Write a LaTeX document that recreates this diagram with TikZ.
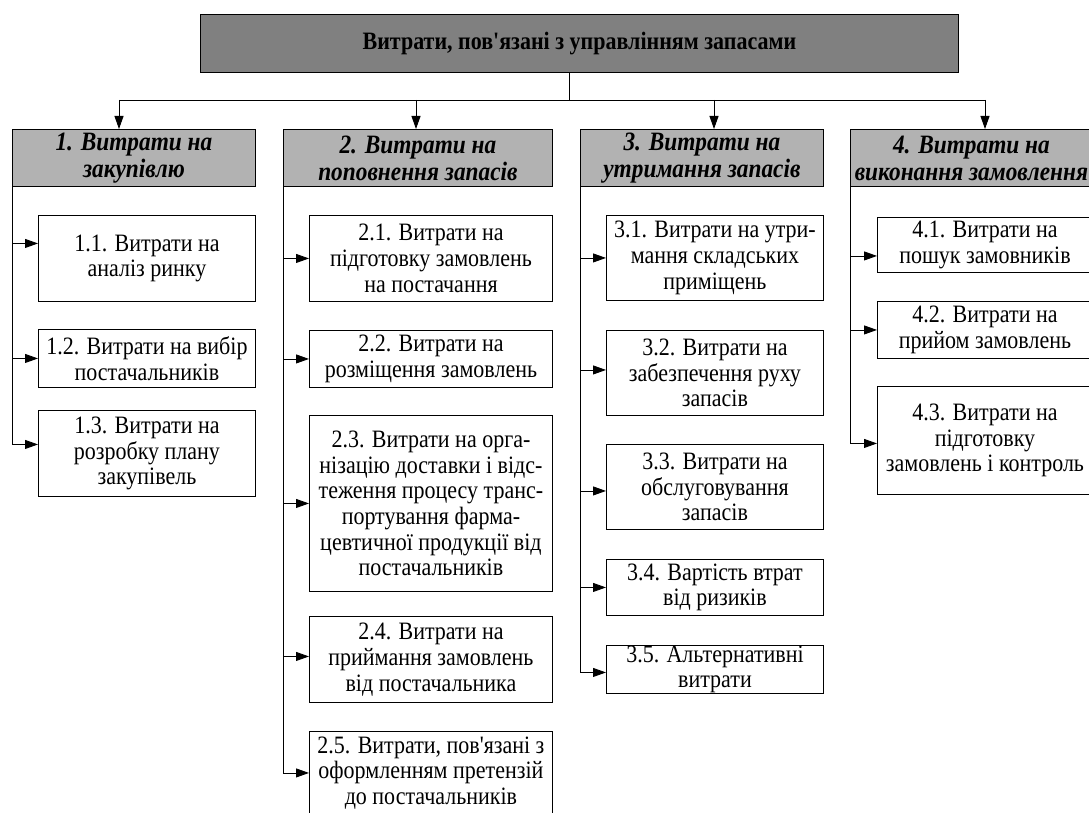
\documentclass[tikz,border=0pt]{standalone}
\usepackage{fontspec}
\setmainfont{Liberation Serif}[Ligatures=TeXOff,FakeStretch=0.88]
\usetikzlibrary{arrows.meta}
\definecolor{titlegray}{gray}{0.5}
\definecolor{hdrgray}{gray}{0.7}
\begin{document}
\begin{tikzpicture}[x=1pt,y=-1pt,
  ln/.style={line width=0.9pt},
  conn/.style={line width=0.9pt,-{Triangle[length=13pt,width=9pt]}},
  box/.style={draw=black,line width=0.9pt,fill=white,inner sep=0pt,align=center,anchor=north west,font=\fontsize{25}{25.7}\selectfont},
  hdr/.style={draw=black,line width=0.9pt,fill=hdrgray,inner sep=0pt,align=center,anchor=north west,font=\fontsize{26.5}{27}\selectfont\bfseries\itshape},
  ttl/.style={draw=black,line width=0.9pt,fill=titlegray,inner sep=0pt,align=center,anchor=north west,font=\fontsize{25}{26}\selectfont\bfseries}
]
\useasboundingbox (0,0) rectangle (1089,813);
\fill[white] (0,0) rectangle (1089,813);

% title
\node[ttl,minimum width=758pt,minimum height=58pt] (t) at (200,14) {Витрати, пов'язані з управлінням запасами};

% headers
\node[hdr,minimum width=243pt,minimum height=57pt] (h1) at (12,129) {1. Витрати на\\закупівлю};
\node[hdr,minimum width=269pt,minimum height=57pt] (h2) at (283,129) {2. Витрати на\\поповнення запасів};
\node[hdr,minimum width=243pt,minimum height=57pt] (h3) at (580,129) {3. Витрати на\\утримання запасів};
\node[hdr,minimum width=242pt,minimum height=57pt] (h4) at (850,129) {4. Витрати на\\виконання замовлення};

% column 1
\node[box,minimum width=217pt,minimum height=86pt] (b11) at (38,215) {1.1. Витрати на\\аналіз ринку};
\node[box,minimum width=217pt,minimum height=58pt] (b12) at (38,329) {1.2. Витрати на вибір\\постачальників};
\node[box,minimum width=217pt,minimum height=86pt] (b13) at (38,410) {1.3. Витрати на\\розробку плану\\закупівель};

% column 2
\node[box,minimum width=243pt,minimum height=86pt] (b21) at (309,215) {2.1. Витрати на\\підготовку замовлень\\на постачання};
\node[box,minimum width=243pt,minimum height=57pt] (b22) at (309,330) {2.2. Витрати на\\розміщення замовлень};
\node[box,minimum width=243pt,minimum height=176pt] (b23) at (309,415) {2.3. Витрати на орга-\\нізацію доставки і відс-\\теження процесу транс-\\портування фарма-\\цевтичної продукції від\\постачальників};
\node[box,minimum width=243pt,minimum height=86pt] (b24) at (309,616) {2.4. Витрати на\\приймання замовлень\\від постачальника};
\node[box,minimum width=243pt,minimum height=83pt] (b25) at (309,731) {2.5. Витрати, пов'язані з\\оформленням претензій\\до постачальників};

% column 3
\node[box,minimum width=217pt,minimum height=85pt] (b31) at (606,215) {3.1. Витрати на утри-\\мання складських\\приміщень};
\node[box,minimum width=217pt,minimum height=85pt] (b32) at (606,330) {3.2. Витрати на\\забезпечення руху\\запасів};
\node[box,minimum width=217pt,minimum height=85pt] (b33) at (606,444) {3.3. Витрати на\\обслуговування\\запасів};
\node[box,minimum width=217pt,minimum height=56pt] (b34) at (606,559) {3.4. Вартість втрат\\від ризиків};
\node[box,minimum width=217pt,minimum height=48pt] (b35) at (606,645) {3.5. Альтернативні\\витрати};

% column 4
\node[box,minimum width=215pt,minimum height=55pt] (b41) at (877,217) {4.1. Витрати на\\пошук замовників};
\node[box,minimum width=215pt,minimum height=57pt] (b42) at (877,301) {4.2. Витрати на\\прийом замовлень};
\node[box,minimum width=215pt,minimum height=108pt] (b43) at (877,386) {4.3. Витрати на\\підготовку\\замовлень і контроль};

% top connectors
\coordinate (j0) at (569,100);
\coordinate (j1) at (119,100);
\coordinate (j2) at (416,100);
\coordinate (j3) at (714,100);
\coordinate (j4) at (985,100);
\draw[ln] (t.south -| j0) -- (j0);
\draw[ln] (j1) -- (j4);
\draw[conn] (j1) -- (j1 |- h1.north);
\draw[conn] (j2) -- (j2 |- h2.north);
\draw[conn] (j3) -- (j3 |- h3.north);
\draw[conn] (j4) -- (j4 |- h4.north);

% column 1 connectors
\draw[ln] (h1.south west) -- ([yshift=9pt]b13.west -| h1.south west);
\draw[conn] ([yshift=15pt]b11.west -| h1.south west) -- ([yshift=15pt]b11.west);
\draw[conn] (b12.west -| h1.south west) -- (b12.west);
\draw[conn] ([yshift=9pt]b13.west -| h1.south west) -- ([yshift=9pt]b13.west);

% column 2 connectors
\draw[ln] (h2.south west) -- (b25.west -| h2.south west);
\draw[conn] (b21.west -| h2.south west) -- (b21.west);
\draw[conn] (b22.west -| h2.south west) -- (b22.west);
\draw[conn] (b23.west -| h2.south west) -- (b23.west);
\draw[conn] ([yshift=3pt]b24.west -| h2.south west) -- ([yshift=3pt]b24.west);
\draw[conn] (b25.west -| h2.south west) -- (b25.west);

% column 3 connectors
\draw[ln] (h3.south west) -- ([yshift=-3pt]b35.west -| h3.south west);
\draw[conn] (b31.west -| h3.south west) -- (b31.west);
\draw[conn] ([yshift=3pt]b32.west -| h3.south west) -- ([yshift=3pt]b32.west);
\draw[conn] ([yshift=-4pt]b33.west -| h3.south west) -- ([yshift=-4pt]b33.west);
\draw[conn] (b34.west -| h3.south west) -- (b34.west);
\draw[conn] ([yshift=-3pt]b35.west -| h3.south west) -- ([yshift=-3pt]b35.west);

% column 4 connectors
\draw[ln] (h4.south west) -- ([yshift=-3pt]b43.west -| h4.south west);
\draw[conn] ([yshift=-11pt]b41.west -| h4.south west) -- ([yshift=-11pt]b41.west);
\draw[conn] (b42.west -| h4.south west) -- (b42.west);
\draw[conn] ([yshift=-3pt]b43.west -| h4.south west) -- ([yshift=-3pt]b43.west);
\end{tikzpicture}
\end{document}
